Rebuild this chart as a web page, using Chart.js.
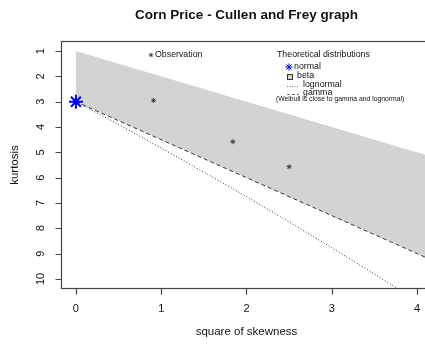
<!DOCTYPE html>
<html><head><meta charset="utf-8">
<script src="https://cdn.jsdelivr.net/npm/chart.js@4/dist/chart.umd.min.js"></script>
<style>html,body{margin:0;padding:0;background:#fff;overflow:hidden}#wrap{width:425px;height:345px;overflow:hidden;position:relative}canvas{display:block}</style>
</head><body><div id="wrap"><canvas id="c" width="440" height="345"></canvas></div>
<script>
const chartTitle = 'Corn Price - Cullen and Frey graph';
const xAxisTitle = 'square of skewness';
const yAxisTitle = 'kurtosis';
const xTicks = [0, 1, 2, 3, 4];
const yTicks = [1, 2, 3, 4, 5, 6, 7, 8, 9, 10];
const obsSkew2 = [0.91, 1.84, 2.50];
const obsKurt = [2.95, 4.58, 5.57];
const normalSkew2 = [0];
const normalKurt = [3];
const betaSkew2 = [0, 4.2, 4.2, 0];
const betaKurt = [1, 5.2, 9.3, 3];
const lognormSkew2 = [0, 0.25, 0.5, 1, 1.5, 2, 2.5, 3, 3.5, 4];
const lognormKurt = [3, 3.45, 3.90, 4.83, 5.78, 6.75, 7.75, 8.77, 9.81, 10.87];
const gammaSkew2 = [0, 4.2];
const gammaKurt = [3, 9.3];
const legendObs = 'Observation';
const legendHead = 'Theoretical distributions';
const legendItems = ['normal', 'beta', 'lognormal', 'gamma'];
const legendNote = '(Weibull is close to gamma and lognormal)';

const zip = (xs, ys) => xs.map((x, i) => ({x: x, y: ys[i]}));
const FONT = '"Liberation Sans", Arial, Helvetica, sans-serif';

function star(ctx, x, y, r, color, lw) {
  ctx.save();
  ctx.strokeStyle = color; ctx.lineWidth = lw;
  ctx.beginPath();
  ctx.moveTo(x - r, y); ctx.lineTo(x + r, y);
  ctx.moveTo(x, y - r); ctx.lineTo(x, y + r);
  const d = r * Math.SQRT1_2;
  ctx.moveTo(x - d, y - d); ctx.lineTo(x + d, y + d);
  ctx.moveTo(x - d, y + d); ctx.lineTo(x + d, y - d);
  ctx.stroke();
  ctx.restore();
}

const decor = {
  id: 'decor',
  afterDraw(chart) {
    const ctx = chart.ctx;
    const a = chart.chartArea;
    const xs = chart.scales.x, ys = chart.scales.y;
    ctx.save();
    ctx.strokeStyle = '#444'; ctx.lineWidth = 1.2;
    ctx.strokeRect(a.left - 0.5, a.top - 0.5, a.right - a.left + 1, a.bottom - a.top + 1);
    ctx.beginPath();
    yTicks.forEach(v => { const p = Math.round(ys.getPixelForValue(v)) + 0.5; ctx.moveTo(a.left - 0.5, p); ctx.lineTo(a.left - 6.5, p); });
    xTicks.forEach(v => { const p = Math.round(xs.getPixelForValue(v)) + 0.5; ctx.moveTo(p, a.bottom + 0.5); ctx.lineTo(p, a.bottom + 6.5); });
    ctx.stroke();
    ctx.fillStyle = '#111';
    ctx.font = '11px ' + FONT;
    ctx.textAlign = 'center'; ctx.textBaseline = 'middle';
    xTicks.forEach(v => ctx.fillText(String(v), xs.getPixelForValue(v), 309));
    yTicks.forEach(v => {
      ctx.save(); ctx.translate(41, ys.getPixelForValue(v)); ctx.rotate(-Math.PI / 2);
      ctx.fillText(String(v), 0, 0); ctx.restore();
    });
    ctx.font = '11.5px ' + FONT;
    ctx.fillText(xAxisTitle, (a.left + a.right) / 2, 332);
    ctx.save(); ctx.translate(15, (a.top + a.bottom) / 2); ctx.rotate(-Math.PI / 2);
    ctx.fillText(yAxisTitle, 0, 0); ctx.restore();
    ctx.font = 'bold 13.5px ' + FONT;
    ctx.fillText(chartTitle, (a.left + a.right) / 2, 15);
    ctx.textAlign = 'left';
    ctx.font = '8.8px ' + FONT;
    star(ctx, 151, 55, 2.2, '#444', 0.9);
    ctx.fillText(legendObs, 155, 55);
    ctx.fillText(legendHead, 277, 55);
    star(ctx, 289, 67, 3.6, '#0000ff', 1);
    ctx.fillText(legendItems[0], 294, 67);
    ctx.fillStyle = '#d3d3d3'; ctx.fillRect(287.5, 74.5, 5, 5);
    ctx.strokeStyle = '#333'; ctx.lineWidth = 1; ctx.strokeRect(287.5, 74.5, 5, 5);
    ctx.fillStyle = '#111';
    ctx.fillText(legendItems[1], 297, 76);
    ctx.lineWidth = 0.8; ctx.strokeStyle = '#444';
    ctx.setLineDash([1, 1.5]);
    ctx.beginPath(); ctx.moveTo(287, 86.5); ctx.lineTo(299, 86.5); ctx.stroke();
    ctx.setLineDash([3, 2]);
    ctx.beginPath(); ctx.moveTo(287, 94.5); ctx.lineTo(299, 94.5); ctx.stroke();
    ctx.setLineDash([]);
    ctx.fillText(legendItems[2], 303, 85);
    ctx.fillText(legendItems[3], 303, 92.5);
    ctx.font = '6.8px ' + FONT;
    ctx.fillText(legendNote, 276, 99);
    ctx.restore();
  }
};

new Chart(document.getElementById('c'), {
  type: 'scatter',
  data: {
    datasets: [
      { data: zip(normalSkew2, normalKurt), pointStyle: 'star', pointRadius: 7, borderColor: '#0000ff', backgroundColor: '#0000ff', pointBorderWidth: 2, order: 0 },
      { data: zip(obsSkew2, obsKurt), pointStyle: 'star', pointRadius: 2.5, borderColor: '#444', backgroundColor: '#444', pointBorderWidth: 1, order: 1 },
      { data: zip(gammaSkew2, gammaKurt), showLine: true, pointRadius: 0, borderColor: '#333', borderWidth: 1, borderDash: [4, 3], fill: false, order: 2 },
      { data: zip(lognormSkew2, lognormKurt), showLine: true, pointRadius: 0, borderColor: '#333', borderWidth: 1, borderDash: [1, 2], fill: false, order: 3 },
      { data: zip(betaSkew2, betaKurt), showLine: true, pointRadius: 0, borderWidth: 0, borderColor: 'rgba(0,0,0,0)', backgroundColor: '#d3d3d3', fill: 'shape', order: 10 }
    ]
  },
  options: {
    responsive: false, animation: false, devicePixelRatio: 1,
    layout: { padding: { left: 62, top: 42, right: 6, bottom: 57 } },
    scales: {
      x: { type: 'linear', min: -0.163, max: 4.163, display: false },
      y: { type: 'linear', min: 0.64, max: 10.36, reverse: true, display: false }
    },
    plugins: { legend: { display: false }, tooltip: { enabled: false }, title: { display: false } }
  },
  plugins: [decor]
});
</script>
</body></html>
